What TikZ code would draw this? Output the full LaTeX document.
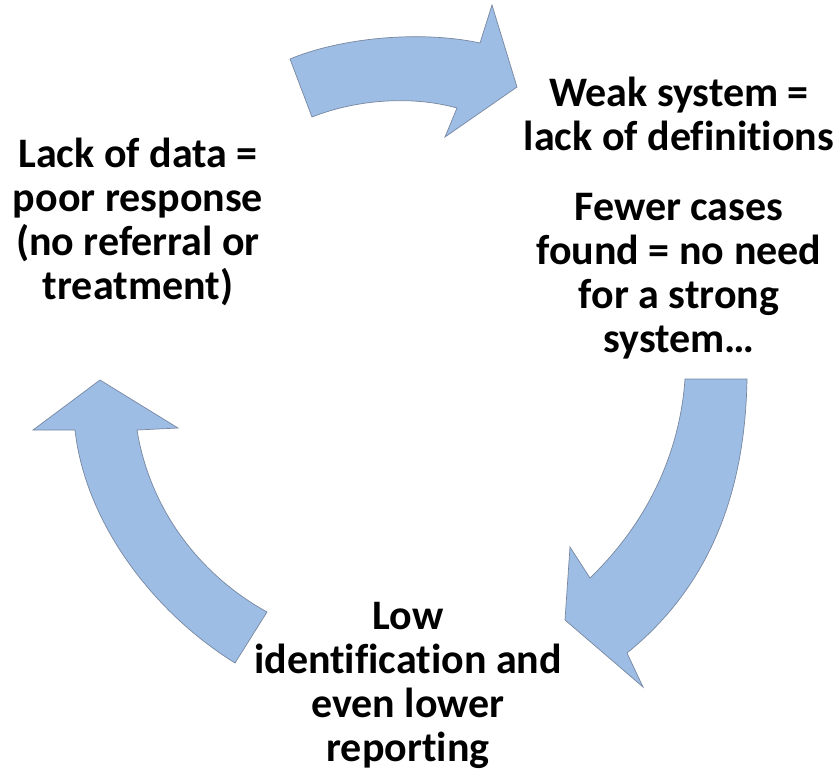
\documentclass[tikz,border=0pt]{standalone}
\usepackage{fontspec}
\setmainfont{Carlito}[Ligatures=NoCommon]
\usetikzlibrary{positioning}
\definecolor{arrowblue}{RGB}{157,189,229}
\definecolor{arrowline}{RGB}{120,135,160}

\begin{document}
\begin{tikzpicture}[x=1pt,y=-1pt,
				txt/.style = {align=center, inner sep=0pt, font=\fontsize{42}{44}\selectfont\bfseries},
				blk arrow/.style = {fill=arrowblue, draw=arrowline, line width=0.7pt, line join=miter}]
				\useasboundingbox (0,0) rectangle (836,777);
				
				% block arrows
				\path[blk arrow] (290,59) .. controls (340,38) and (420,30) .. (480,43) -- (492,5) -- (517,87)
				-- (445,137) -- (457,108) .. controls (410,95) and (355,100) .. (312,117) -- cycle;
				\path[blk arrow] (685,379) -- (747,379) .. controls (745,500) and (705,590) .. (627,653)
				-- (643,687) -- (565,620) -- (570,547) -- (590,578) .. controls (650,520) and (680,450) .. (685,379) -- cycle;
				\path[blk arrow] (100,380) -- (178,428) -- (137,430) .. controls (150,510) and (200,575) .. (267,612)
				-- (235,663) .. controls (150,610) and (85,520) .. (75,430) -- (33,430) -- cycle;
				
				% labels
				\node[txt] (lack) at (138,222) {Lack of data =\\poor response\\(no referral or\\treatment)};
				\node[txt] (weak) at (679,114) {Weak system =\\lack of definitions};
				\node[txt] [below=42pt of weak] (fewer) {Fewer cases\\found = no need\\for a strong\\system\ldots};
				\node[txt] (low) at (408,685) {Low\\identification and\\even lower\\reporting};
\end{tikzpicture}
\end{document}
